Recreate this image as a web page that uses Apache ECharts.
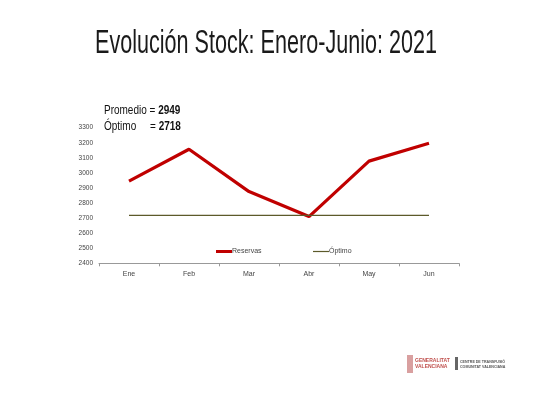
<!DOCTYPE html>
<html><head><meta charset="utf-8">
<script src="https://cdn.jsdelivr.net/npm/echarts@6/dist/echarts.min.js"></script>
<style>html,body{margin:0;padding:0;background:#fff}#c{width:533px;height:400px}</style>
</head><body><div id="c"></div>
<script>
const categories = ['Ene','Feb','Mar','Abr','May','Jun'];
const reservas = [2945, 3157, 2876, 2710, 3078, 3197];
const optimo = [2718, 2718, 2718, 2718, 2718, 2718];
const yTicks = {min: 2400, max: 3300, interval: 100};
const promedio = 2949;
const optimoVal = 2718;
const titleText = 'Evolución Stock: Enero-Junio: 2021';

const sans = '"Liberation Sans", Arial, sans-serif';
const chart = echarts.init(document.getElementById('c'));
chart.setOption({
  animation: false,
  backgroundColor: '#fff',
  grid: {left: 99, right: 74, top: 127.7, bottom: 136.7},
  legend: [
    {top: 243, left: 211, itemWidth: 16, itemHeight: 3, icon: 'rect',
     textStyle: {fontSize: 7, color: '#444', fontFamily: sans, padding: [0,0,0,-5]},
     data: [{name: 'Reservas', itemStyle: {color: '#c00000'}}]},
    {top: 243, left: 308, itemWidth: 16, itemHeight: 1.2, icon: 'rect',
     textStyle: {fontSize: 7, color: '#444', fontFamily: sans, padding: [0,0,0,-5]},
     data: [{name: 'Óptimo', itemStyle: {color: '#5c5a2a'}}]}
  ],
  xAxis: {
    type: 'category', data: categories, boundaryGap: true,
    axisLine: {lineStyle: {color: '#999', width: 1}},
    axisTick: {show: true, length: 3, lineStyle: {color: '#999'}},
    axisLabel: {fontSize: 7, color: '#444', margin: 7, fontFamily: sans}
  },
  yAxis: {
    type: 'value', min: yTicks.min, max: yTicks.max, interval: yTicks.interval,
    axisLine: {show: false},
    axisTick: {show: false},
    splitLine: {show: false},
    axisLabel: {fontSize: 6.5, color: '#444', margin: 6, fontFamily: sans,
      formatter: v => String(v)}
  },
  series: [
    {name: 'Reservas', type: 'line', data: reservas, symbol: 'none',
     lineStyle: {color: '#c00000', width: 3.2}, itemStyle: {color: '#c00000'}},
    {name: 'Óptimo', type: 'line', data: optimo, symbol: 'none',
     lineStyle: {color: '#5c5a2a', width: 1.2}, itemStyle: {color: '#5c5a2a'}}
  ],
  graphic: [
    {type: 'text', x: 266, y: 43.5, scaleX: 0.635, style: {
      text: titleText, font: '34px ' + sans, fill: '#1a1a1a',
      textAlign: 'center', textVerticalAlign: 'middle'}},
    {type: 'text', x: 104, y: 110, scaleX: 0.74, style: {
      text: '{n|Promedio = }{b|' + promedio + '}',
      textVerticalAlign: 'middle',
      rich: {n: {fontFamily: sans, fontSize: 13.5, fill: '#111'},
             b: {fontFamily: sans, fontSize: 13.5, fontWeight: 'bold', fill: '#111'}}}},
    {type: 'text', x: 104, y: 126, scaleX: 0.74, style: {
      text: '{n|Óptimo     = }{b|' + optimoVal + '}',
      textVerticalAlign: 'middle',
      rich: {n: {fontFamily: sans, fontSize: 13.5, fill: '#111'},
             b: {fontFamily: sans, fontSize: 13.5, fontWeight: 'bold', fill: '#111'}}}},
    {type: 'rect', shape: {x: 407, y: 355, width: 6, height: 18}, style: {fill: '#d9a0a0'}},
    {type: 'text', left: 415, top: 358, style: {text: 'GENERALITAT\nVALENCIANA', fontSize: 5, lineHeight: 6, fill: '#c0504d', fontFamily: sans, fontWeight: 'bold'}},
    {type: 'rect', shape: {x: 455, y: 357, width: 3, height: 13}, style: {fill: '#666'}},
    {type: 'text', left: 460, top: 359, style: {text: 'CENTRE DE TRANSFUSIÓ\nCOMUNITAT VALENCIANA', fontSize: 3.6, lineHeight: 5, fill: '#555', fontFamily: sans, fontWeight: 'bold'}}
  ]
});
</script></body></html>
